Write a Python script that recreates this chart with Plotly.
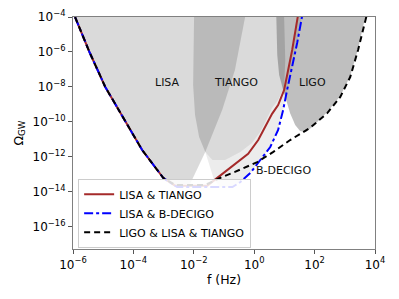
import plotly.graph_objects as go

# ---- combined sensitivity curves (f in Hz, Omega_GW) ----
common_f = [1.17e-6, 3.5e-6, 1.17e-5, 5.4e-5, 1.95e-4, 9.8e-4]
common_om = [1e-4, 1e-6, 1e-8, 1e-10, 2.5e-12, 6.3e-14]

red_f = common_f + [2.4e-3, 2.8e-2, 0.19, 0.63, 1.36, 2.3, 3.9, 6.2, 9.8, 18.1, 28.7]
red_om = common_om + [2.3e-14, 2.3e-14, 3.1e-13, 1.5e-12, 9.3e-12, 5.1e-11, 2.9e-10, 9.3e-10, 6.8e-9, 1.3e-6, 1.5e-4]

blue_f = common_f + [2.8e-3, 0.19, 0.35, 0.74, 1.58, 3.4, 6.2, 9.1, 12.3, 18.1, 26.5, 42]
blue_om = common_om + [1.9e-14, 1.9e-14, 3.7e-14, 1.2e-13, 6.8e-13, 3.7e-12, 3.5e-11, 4.9e-10, 6.8e-9, 1.4e-7, 3.3e-6, 2.5e-4]

black_f = common_f + [2.4e-3, 2.4e-2, 7.4e-2, 0.23, 1.26, 4.3, 15.5, 71, 263, 708, 1510, 2750, 5200]
black_om = common_om + [2.5e-14, 2.5e-14, 6.3e-14, 1.4e-13, 5.1e-13, 1.95e-12, 9.3e-12, 4.6e-11, 3.2e-10, 2.7e-9, 3.7e-8, 1.3e-6, 1.1e-4]

# ---- detector sensitivity regions (outline points) ----
lisa_f = common_f + [2.4e-3, 7.6e-3, 2.4e-2, 8.7e-2, 0.23, 0.5]
lisa_om = common_om + [2.5e-14, 2.9e-14, 1.95e-12, 4.9e-10, 9.3e-8, 1e-4]

tiango_f = [1.02e-2, 9.5e-3, 1.1e-2, 1.5e-2, 2.4e-2, 4.1e-2, 0.11, 0.35, 0.85, 1.58, 2.5, 3.9, 6.2, 9.8, 10.7, 9.8]
tiango_om = [1e-4, 1.3e-8, 2.5e-10, 1.4e-11, 1.95e-12, 6.8e-13, 6.8e-13, 1.95e-12, 6.3e-12, 2.7e-11, 1.3e-10, 6.3e-10, 1.8e-9, 8.7e-9, 3.5e-7, 1e-4]

ligo_f = [5.4, 5.8, 6.7, 9.1, 15.5, 22.8, 33, 52, 83, 263, 708, 1510, 2750, 4750]
ligo_om = [1e-4, 6.8e-7, 4.9e-8, 6.8e-9, 3.2e-10, 6.8e-11, 3.1e-11, 2.7e-11, 5.1e-11, 3.7e-10, 3.1e-9, 4.3e-8, 1.5e-6, 1e-4]

bdecigo_f = [2.4e-2, 3.3e-2, 4.8e-2, 7.4e-2, 0.19, 0.35, 0.74, 1.58, 3.4, 6.2, 9.1, 12.3, 18.1, 26.5, 42,
             28.7, 18.1, 9.8, 6.2, 3.9, 2.5, 1.58, 0.85, 0.35, 0.11, 4.1e-2]
bdecigo_om = [1.95e-12, 3.3e-13, 4.3e-14, 1.9e-14, 1.9e-14, 3.7e-14, 1.2e-13, 6.8e-13, 3.7e-12, 3.5e-11, 4.9e-10, 6.8e-9, 1.4e-7, 3.3e-6, 2.5e-4,
              1.5e-4, 1.3e-6, 6.8e-9, 1.8e-9, 6.3e-10, 1.3e-10, 2.7e-11, 6.3e-12, 1.95e-12, 6.8e-13, 6.8e-13]

region_labels = ["LISA", "TIANGO", "LIGO", "B-DECIGO"]
label_logf = [-2.88, -0.6, 1.92, 0.0]
label_logom = [-7.77, -7.77, -7.77, -12.8]

x_tickvals = [1e-6, 1e-4, 1e-2, 1e0, 1e2, 1e4]
x_ticktext = ["10<sup>−6</sup>", "10<sup>−4</sup>", "10<sup>−2</sup>", "10<sup>0</sup>", "10<sup>2</sup>", "10<sup>4</sup>"]
y_tickvals = [1e-16, 1e-14, 1e-12, 1e-10, 1e-8, 1e-6, 1e-4]
y_ticktext = ["10<sup>−16</sup>", "10<sup>−14</sup>", "10<sup>−12</sup>", "10<sup>−10</sup>",
              "10<sup>−8</sup>", "10<sup>−6</sup>", "10<sup>−4</sup>"]

fig = go.Figure()

def region(fx, fy, color):
    fig.add_trace(go.Scatter(x=fx, y=fy, fill="toself", fillcolor=color, mode="lines",
                             line=dict(width=0), showlegend=False, hoverinfo="skip"))

region(bdecigo_f, bdecigo_om, "rgba(0,0,0,0.075)")
region(lisa_f, lisa_om, "rgba(0,0,0,0.145)")
region(tiango_f, tiango_om, "rgba(0,0,0,0.145)")
region(ligo_f, ligo_om, "rgba(0,0,0,0.25)")

fig.add_trace(go.Scatter(x=red_f, y=red_om, mode="lines", name="LISA & TIANGO",
                         line=dict(color="#a52a2a", width=2)))
fig.add_trace(go.Scatter(x=blue_f, y=blue_om, mode="lines", name="LISA & B-DECIGO",
                         line=dict(color="#0000ff", width=2, dash="dashdot")))
fig.add_trace(go.Scatter(x=black_f, y=black_om, mode="lines", name="LIGO & LISA & TIANGO",
                         line=dict(color="#000000", width=2, dash="6px,4px")))

for txt, lx, ly in zip(region_labels, label_logf, label_logom):
    fig.add_annotation(x=lx, y=ly, text=txt, showarrow=False,
                       xanchor="left" if txt == "B-DECIGO" else "center",
                       font=dict(size=11, color="#111"))

axis_common = dict(type="log", showgrid=False, zeroline=False, showline=True, mirror=True,
                   linecolor="#808080", linewidth=1.2, ticks="outside", ticklen=4,
                   tickcolor="#555", automargin=False,
                   tickfont=dict(size=12, color="#000"))

fig.update_xaxes(range=[-6, 4], tickvals=x_tickvals, ticktext=x_ticktext,
                 title=dict(text="f (Hz)", font=dict(size=12.5, color="#000"), standoff=3),
                 **axis_common)
fig.update_yaxes(range=[-17.26, -4], tickvals=y_tickvals, ticktext=y_ticktext,
                 title=dict(text="Ω<sub>GW</sub>", font=dict(size=12.5, color="#000"), standoff=6),
                 **axis_common)

fig.update_layout(
    width=399, height=299,
    margin=dict(l=73, r=24, t=17, b=50),
    paper_bgcolor="white", plot_bgcolor="white",
    font=dict(family="DejaVu Sans", color="#000"),
    legend=dict(x=0.017, y=0.005, xanchor="left", yanchor="bottom",
                bgcolor="rgba(255,255,255,0.85)", bordercolor="#cccccc", borderwidth=1,
                font=dict(size=11), tracegroupgap=0),
)

fig.write_html("out.html", config={"displayModeBar": False},
               post_script="document.body.style.margin='0';")
